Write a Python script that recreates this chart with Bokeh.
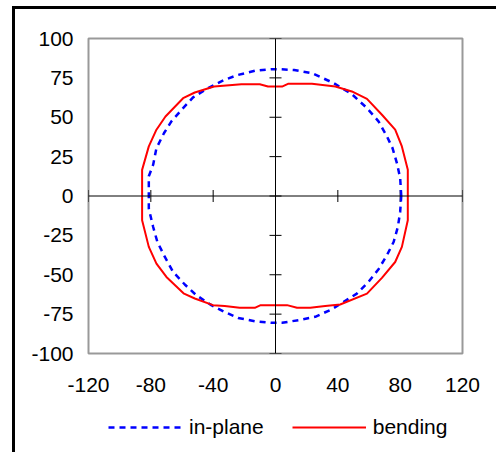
from bokeh.plotting import figure
from bokeh.layouts import column
from bokeh.models import (Range1d, FixedTicker, Span, Legend, LegendItem,
                          PrintfTickFormatter, GlobalInlineStyleSheet)
from bokeh.embed import file_html
from bokeh.resources import INLINE
import math

# ---- data ----
inplane_x = [80.7, 80.0, 77.9, 75.1, 71.5, 66.1, 58.7, 49.0, 37.3, 23.4, 12.0, 2.0, -2.7, -13.3, -24.0,
             -32.6, -43.3, -52.9, -59.3, -66.8, -71.5, -76.4, -78.5, -81.3, -81.3, -81.3, -78.5, -75.8,
             -71.0, -65.7, -58.2, -50.8, -41.2, -32.6, -24.0, -13.3, -2.7, 4.2, 14.9, 25.5, 36.2, 52.2,
             59.7, 66.1, 71.5, 75.8, 78.5, 80.0, 80.7]
inplane_y = [0.0, 11.4, 20.9, 30.4, 37.9, 47.4, 55.8, 64.7, 71.7, 78.0, 80.0, 80.5, 80.5, 79.5, 76.9,
             73.8, 68.5, 62.6, 55.8, 47.4, 40.0, 30.4, 19.9, 12.5, 3.0, -8.0, -19.7, -29.2,
             -38.7, -48.2, -56.2, -63.0, -69.3, -73.6, -77.4, -79.5, -80.5, -80.5, -78.8, -76.7, -71.9, -62.0,
             -54.5, -46.5, -37.6, -29.2, -19.7, -10.1, 0.0]

bending_x = [84.9, 84.9, 81.1, 76.8, 68.3, 58.7, 49.0, 38.4, 23.4, 8.0, 4.2, 0.0, -4.8, -10.1, -21.9,
             -39.4, -51.8, -59.3, -70.6, -76.4, -81.3, -85.6, -85.6, -85.6, -81.3, -76.4, -70.0, -58.7,
             -51.8, -40.1, -32.6, -23.0, -13.3, -9.5, 0.0, 7.4, 13.8, 22.3, 31.9, 41.5, 58.7, 68.3,
             76.8, 81.1, 84.9, 84.9]
bending_y = [0.0, 16.7, 31.5, 42.1, 51.6, 61.7, 66.4, 69.5, 71.2, 71.2, 69.5, 69.5, 69.5, 71.0, 71.0,
             69.5, 65.7, 62.1, 50.5, 42.1, 31.5, 16.6, 0.0, -15.4, -32.3, -42.9, -51.4, -62.0,
             -65.1, -69.3, -69.8, -71.0, -71.0, -69.3, -69.3, -69.3, -71.0, -71.0, -69.8, -68.9, -62.0, -52.0,
             -41.9, -32.3, -15.4, 0.0]

x_ticks = [-120, -80, -40, 0, 40, 80, 120]
y_ticks = [-100, -75, -50, -25, 0, 25, 50, 75, 100]
series_names = ["in-plane", "bending"]

FONT = "Liberation Sans"
BLUE, RED = "#0000FF", "#FF0000"

p = figure(output_backend="svg", toolbar_location=None,
           x_range=Range1d(-120, 120), y_range=Range1d(-100, 100),
           frame_width=374, frame_height=315,
           min_border_left=73, min_border_top=29, min_border_right=34, min_border_bottom=60)

p.grid.visible = False
p.outline_line_color = "#999999"
p.outline_line_width = 2
p.background_fill_color = "white"
p.border_fill_color = None

for ax, ticks in ((p.xaxis[0], x_ticks), (p.yaxis[0], y_ticks)):
    ax.ticker = FixedTicker(ticks=ticks)
    ax.formatter = PrintfTickFormatter(format="%d")
    ax.axis_line_color = None
    ax.major_tick_line_color = None
    ax.minor_tick_line_color = None
    ax.major_tick_out = 0
    ax.major_tick_in = 0
    ax.major_label_text_font = FONT
    ax.major_label_text_font_size = "21px"
    ax.major_label_text_color = "black"
p.yaxis[0].major_label_standoff = 15
p.xaxis[0].major_label_standoff = 24

# centre axes
p.add_layout(Span(location=0, dimension="height", line_color="black", line_width=1))
p.add_layout(Span(location=0, dimension="width", line_color="black", line_width=1))
p.scatter(x=[0] * len(y_ticks), y=y_ticks, marker="dash", size=12, line_color="black", line_width=1)
p.scatter(x=x_ticks, y=[0] * len(x_ticks), marker="dash", size=12, angle=math.pi / 2,
          line_color="black", line_width=1)

p.line(inplane_x, inplane_y, line_color=BLUE, line_width=2.5, line_dash="6 5")
p.line(bending_x, bending_y, line_color=RED, line_width=2)

# legend strip below the chart (its own canvas, so it is not clipped).
# Its proxy lines use the same data; they lie far outside this strip's ranges and draw nothing.
lg = figure(output_backend="svg", toolbar_location=None, width=481, height=26,
            x_range=Range1d(0, 1), y_range=Range1d(0, 1),
            min_border=0, min_border_left=0, min_border_right=0, min_border_top=0, min_border_bottom=0)
lg.axis.visible = False
lg.grid.visible = False
lg.outline_line_color = None
lg.border_fill_color = None
lg.background_fill_color = None
l1 = lg.line(inplane_x, inplane_y, line_color=BLUE, line_width=2.5, line_dash="6 5")
l2 = lg.line(bending_x, bending_y, line_color=RED, line_width=2)
legend = Legend(items=[LegendItem(label=series_names[0], renderers=[l1]),
                       LegendItem(label=series_names[1], renderers=[l2])],
                orientation="horizontal", location=(20, 0),
                label_text_font=FONT, label_text_font_size="21px", label_text_color="black",
                glyph_width=74, glyph_height=20, label_standoff=7, spacing=28,
                border_line_color=None, background_fill_alpha=0, padding=0, margin=0)
lg.add_layout(legend)

layout = column(p, lg, spacing=0)
layout.stylesheets = [GlobalInlineStyleSheet(css=(
    "html { overflow: hidden !important;"
    " background: linear-gradient(#000, #000) 12px 6px / 3px 2000px no-repeat,"
    " linear-gradient(#000, #000) 12px 6px / 2000px 3px no-repeat, #fff !important; }"
    "body { margin: 9px 0 0 15px !important; padding: 0 !important; background: transparent !important; }"))]

open("out.html", "w").write(file_html(layout, INLINE))
